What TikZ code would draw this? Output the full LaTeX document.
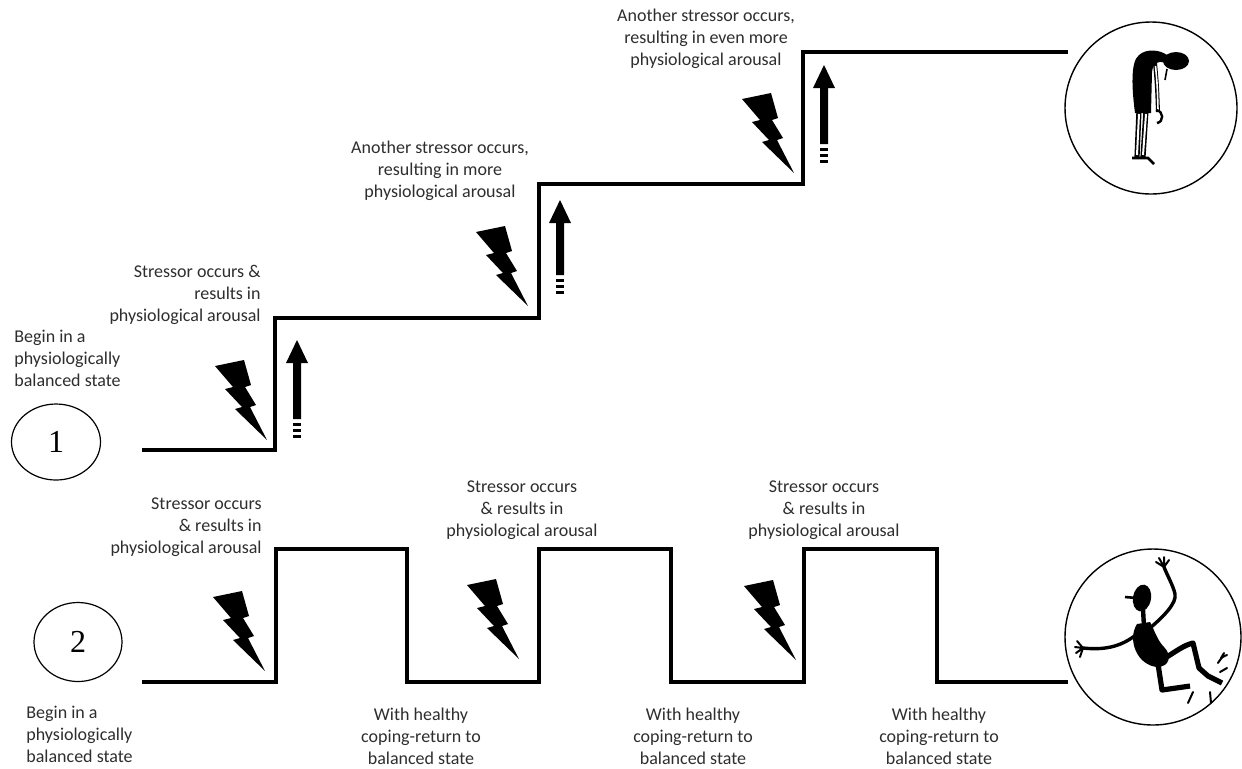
\documentclass[tikz,border=0pt]{standalone}
\usepackage{fontspec}
\setmainfont{Carlito}
\newfontfamily\numfont{Liberation Serif}
\usetikzlibrary{shapes.geometric}

% lightning bolt, top-left corner at (#1,#2)
\newcommand\stressbolt[2]{%
  \fill[black, shift={(#1,#2)}] (0,0) -- (29,-6) -- (36,19) -- (30,21) -- (41,39)
    -- (35,41) -- (52,74) -- (20,43) -- (27,41) -- (10,23) -- (18,21) -- cycle;}

% upward arrow with three bars at its foot: x, tip y, bottom y
\newcommand\arousalarrow[3]{%
  \fill (#1,#2) -- (#1+11,#2+23) -- (#1+4,#2+23) -- (#1+4,#3-19) -- (#1-4,#3-19)
    -- (#1-4,#2+23) -- (#1-11,#2+23) -- cycle;
  \fill (#1-4,#3-15) rectangle (#1+4,#3-12);
  \fill (#1-4,#3-9) rectangle (#1+4,#3-6.5);
  \fill (#1-4,#3-3) rectangle (#1+4,#3);}

\begin{document}
\begin{tikzpicture}[x=0.5pt,y=-0.5pt,
  stairline/.style={line width=2.2pt, line join=miter, line cap=butt},
  lbl/.style={font=\fontsize{9}{11}\selectfont, text=black!82, inner sep=0pt},
  numell/.style={draw, ellipse, line width=0.6pt, inner sep=0pt,
    font=\numfont\fontsize{16}{16}\selectfont},
  figframe/.style={draw, circle, line width=0.7pt, inner sep=0pt}]

\useasboundingbox[fill=white] (0,0) rectangle (1242,768);

% ---------- scenario 1: staircase of accumulating arousal ----------
\coordinate (s1start) at (142,450);
\coordinate (s1end) at (1068,52);
\draw[stairline] (s1start) -- (275,450) -- (275,318) -- (539,318) -- (539,184)
  -- (803,184) -- (803,52) -- (s1end);

\node[numell, minimum width=44.5pt, minimum height=38pt] (one) at (56,442) {1};

\node[lbl, anchor=west, align=left] (begin1) at (14,358)
  {Begin in a\\physiologically\\balanced state};
\node[lbl, anchor=east, align=right] (stress1) at (261,295)
  {Stressor occurs \&\\results in\\physiological arousal};
\node[lbl, align=center] (stress2) at (440,171)
  {Another stressor occurs,\\resulting in more\\physiological arousal};
\node[lbl, align=center] (stress3) at (706,39)
  {Another stressor occurs,\\resulting in even more\\physiological arousal};

\stressbolt{215}{366}
\stressbolt{476}{232}
\stressbolt{742}{99}

\arousalarrow{297}{340}{438}
\arousalarrow{560}{200}{294}
\arousalarrow{824}{65}{163}

% exhausted figure
\node[figframe, minimum size=86pt] (tired) at (1151,108) {};
\fill (1135,113) .. controls (1132,90) and (1130,62) .. (1139,55)
  .. controls (1147,48) and (1160,50) .. (1167,55) -- (1165,63)
  .. controls (1158,60) and (1153,63) .. (1152,72) -- (1151,113) -- cycle;
\fill (1176,61) ellipse [x radius=13, y radius=9];
\draw[line width=0.8pt] (1167,69) -- (1165,80);
\draw[line width=2pt] (1155,63) .. controls (1157,85) .. (1158,112);
\draw[line width=0.8pt, white] (1155.5,66) .. controls (1157.3,85) .. (1158,110);
\draw[line width=1.2pt] (1156,110) .. controls (1164,111) and (1164,122) .. (1157,123);
\draw[line width=2.6pt] (1139,110) -- (1137,157) (1146,110) -- (1143,157);
\draw[line width=1pt, white] (1139,114) -- (1137,155) (1146,114) -- (1143,155);
\draw[line width=1.4pt] (1132,158) -- (1148,158) -- (1154,164);

% ---------- scenario 2: arousal followed by recovery ----------
\coordinate (s2start) at (142,682);
\coordinate (s2end) at (1068,682);
\draw[stairline] (s2start) -- (276,682) -- (276,549) -- (407,549) -- (407,682)
  -- (539,682) -- (539,549) -- (671,549) -- (671,682) -- (804,682) -- (804,549)
  -- (937,549) -- (937,682) -- (s2end);

\node[numell, minimum width=44pt, minimum height=39.5pt] (two) at (78,642) {2};

\node[lbl, anchor=west, align=left] (begin2) at (26,734)
  {Begin in a\\physiologically\\balanced state};
\node[lbl, anchor=east, align=right] (stressb1) at (262,527)
  {Stressor occurs\\\& results in\\physiological arousal};
\node[lbl, align=center] (stressb2) at (522,510)
  {Stressor occurs\\\& results in\\physiological arousal};
\node[lbl, align=center] (stressb3) at (824,510)
  {Stressor occurs\\\& results in\\physiological arousal};

\node[lbl, align=center] (cope1) at (421,736)
  {With healthy\\coping-return to\\balanced state};
\node[lbl, align=center] (cope2) at (693,736)
  {With healthy\\coping-return to\\balanced state};
\node[lbl, align=center] (cope3) at (939,736)
  {With healthy\\coping-return to\\balanced state};

\stressbolt{213}{597}
\stressbolt{467}{585}
\stressbolt{744}{586}

% cheerful jumping figure
\node[figframe, minimum size=88pt] (happy) at (1153,637) {};
\fill[rotate around={-10:(1142,598)}] (1142,598) ellipse [x radius=9, y radius=13.5];
\draw[line width=1.3pt] (1125,597) -- (1137,598);
\draw[line width=2.2pt] (1143,609) -- (1144,627);
\fill (1137,624) .. controls (1127,640) and (1137,665) .. (1157,667)
  .. controls (1170,667) and (1172,655) .. (1164,647)
  .. controls (1157,640) and (1154,629) .. (1150,622) -- cycle;
\draw[line width=1.7pt, line cap=round] (1150,628) .. controls (1163,617) and (1177,603) .. (1175,594)
  .. controls (1173,585) and (1167,575) .. (1164,567);
\draw[line width=1pt, line cap=round] (1164,567) -- (1156,562) (1164,567) -- (1159,558)
  (1164,567) -- (1164,557) (1164,567) -- (1169,560);
\draw[line width=1.7pt, line cap=round] (1137,634) .. controls (1120,648) and (1102,650) .. (1083,648);
\draw[line width=1pt, line cap=round] (1083,648) -- (1077,641) (1083,648) -- (1075,647)
  (1083,648) -- (1076,653) (1083,648) -- (1080,657);
\draw[line width=2.6pt, line join=round] (1162,660) .. controls (1175,652) and (1184,645) .. (1193,643)
  -- (1199,668) -- (1208,676) -- (1222,683);
\draw[line width=2.6pt, line join=round] (1158,664) -- (1162,690) -- (1190,686);
\draw[line width=1pt, line cap=round] (1218,663) .. controls (1222,657) .. (1227,655)
  (1220,672) -- (1227,668) (1188,703) -- (1193,692) (1211,703) -- (1210,692)
  (1221,658) -- (1224,653);

\end{tikzpicture}
\end{document}
